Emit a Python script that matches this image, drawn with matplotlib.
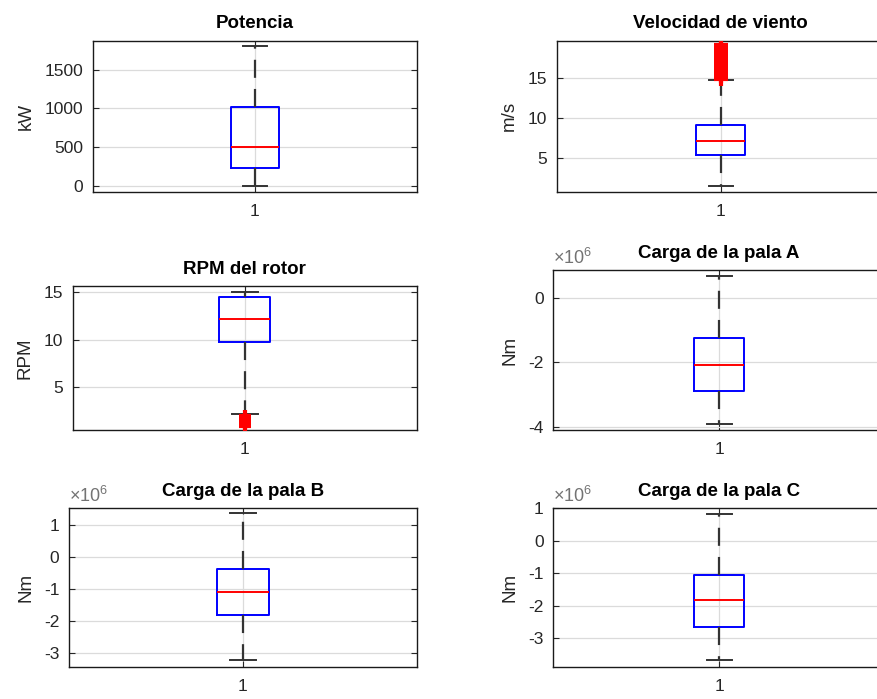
import numpy as np
import matplotlib.pyplot as plt
from matplotlib.ticker import FuncFormatter

plt.rcParams['font.family'] = ['Liberation Sans', 'DejaVu Sans']
plt.rcParams['mathtext.default'] = 'regular'
plt.rcParams['lines.scale_dashes'] = False
plt.rcParams['axes.unicode_minus'] = False

# --- estadisticos de cada variable (cuartiles, bigotes y atipicos) ---
titulos = ['Potencia', 'Velocidad de viento', 'RPM del rotor',
           'Carga de la pala A', 'Carga de la pala B', 'Carga de la pala C']
unidades = ['kW', 'm/s', 'RPM', 'Nm', 'Nm', 'Nm']
escala = [1, 1, 1, 1e6, 1e6, 1e6]

bigote_inf = [0, 1.47, 2.1, -3.9e6, -3.23e6, -3.65e6]
q1 = [233, 5.34, 9.71, -2.89e6, -1.81e6, -2.64e6]
mediana = [504, 7.14, 12.14, -2.09e6, -1.11e6, -1.83e6]
q3 = [1021, 9.07, 14.53, -1.26e6, -0.38e6, -1.04e6]
bigote_sup = [1805, 14.8, 15.0, 0.68e6, 1.37e6, 0.82e6]

atipicos_viento = [14.9, 15.2, 15.5, 15.8, 16.1, 16.4, 16.7, 17.0, 17.3,
                   17.6, 17.9, 18.2, 18.5, 18.8, 19.1]
atipicos_rpm = [0.85, 1.1, 1.35, 1.6, 1.85]
atipicos = [[], atipicos_viento, atipicos_rpm, [], [], []]

lim_inf = [-77, 0.7, 0.41, -4.1e6, -3.44e6, -3.87e6]
lim_sup = [1873, 19.7, 15.67, 0.86e6, 1.52e6, 1.0e6]
marcas_y = [[0, 500, 1000, 1500], [5, 10, 15], [5, 10, 15],
            [-4e6, -2e6, 0], [-3e6, -2e6, -1e6, 0, 1e6],
            [-3e6, -2e6, -1e6, 0, 1e6]]

# posicion de los ejes en pixeles: izquierda, arriba, derecha, abajo
W, H = 878, 699
cajas_px = [(93, 40.7, 417, 191.7), (556.7, 40.7, 885, 191.7),
            (72.7, 286, 416.7, 430), (553.3, 270, 885, 430),
            (69, 508.3, 416.7, 666.7), (553.3, 508.3, 885, 666.7)]
tam_atipico = [8, 10, 8.6, 8, 8, 8]

fig = plt.figure(figsize=(W / 100, H / 100), dpi=100)

for i in range(6):
    l, t, r, b = cajas_px[i]
    ax = fig.add_axes([l / W, (H - b) / H, (r - l) / W, (b - t) / H])

    stats = [dict(med=mediana[i], q1=q1[i], q3=q3[i],
                  whislo=bigote_inf[i], whishi=bigote_sup[i],
                  fliers=atipicos[i])]
    ax.bxp(stats, positions=[1], widths=0.15, capwidths=0.075,
           boxprops=dict(color='blue', lw=1.4),
           medianprops=dict(color='red', lw=1.4),
           whiskerprops=dict(color='0.2', lw=1.6, linestyle=(0, (13, 8))),
           capprops=dict(color='0.2', lw=1.4),
           flierprops=dict(marker='+', markeredgecolor='red',
                           markersize=tam_atipico[i], markeredgewidth=3),
           zorder=3)

    ax.set_xlim(0.5, 1.5)
    ax.set_ylim(lim_inf[i], lim_sup[i])
    ax.set_xticks([1])
    ax.set_xticklabels(['1'])
    ax.set_yticks(marcas_y[i])

    # etiquetas con guion simple y el factor x10^6 arriba a la izquierda
    k = escala[i]
    ax.yaxis.set_major_formatter(FuncFormatter(lambda v, p, k=k: f'{v / k:g}'))
    if k != 1:
        ax.text(0, 1.012, r'$\times10^{6}$', transform=ax.transAxes,
                ha='left', va='bottom', fontsize=13, color='0.45')

    ax.grid(True, color='0.86', lw=0.9, zorder=0)
    ax.set_axisbelow(True)
    ax.tick_params(direction='in', length=4, labelsize=12.5,
                   labelcolor='0.15', color='0.15',
                   left=True, right=True, top=True, bottom=True)
    ax.tick_params(axis='y', pad=7)
    ax.tick_params(axis='x', pad=9)
    for s in ax.spines.values():
        s.set_color('0.1')
        s.set_linewidth(1.0)

    ax.set_title(titulos[i], fontsize=13.5, fontweight='bold', pad=9)
    ax.set_ylabel(unidades[i], fontsize=13.5, color='0.15', labelpad=7)

fig.savefig('out.png', dpi=100)
